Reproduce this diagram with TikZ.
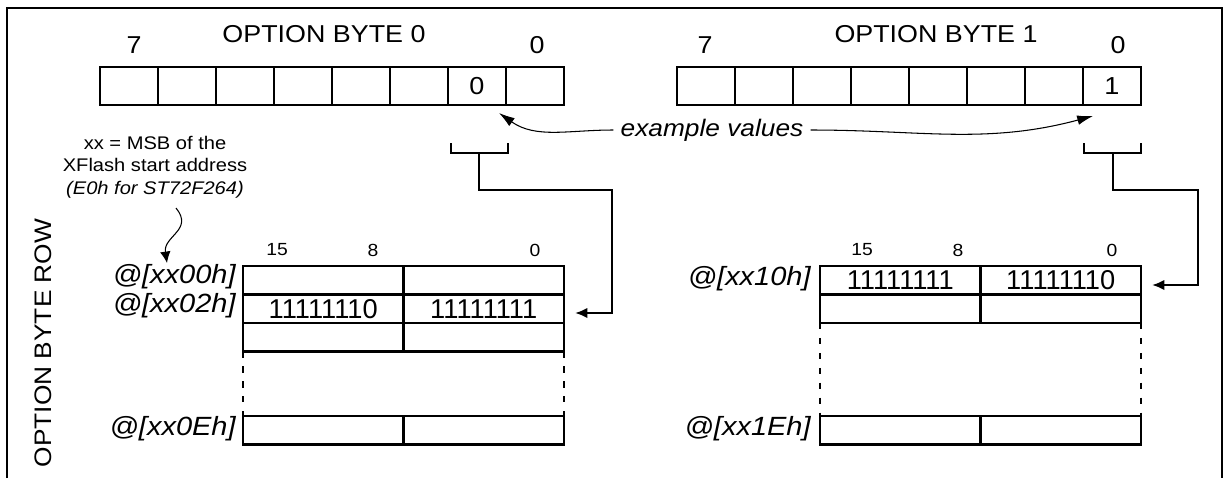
\documentclass[tikz,border=0pt]{standalone}
\usepackage{fontspec}
\setmainfont{Liberation Sans}
\newfontfamily\widesans[FakeStretch=1.1]{Liberation Sans}
\usetikzlibrary{arrows.meta}

\tikzset{
  cell/.style={draw, line width=1.3pt, minimum width=1.16cm, minimum height=0.76cm,
    inner sep=0pt, outer sep=0pt, font=\widesans\fontsize{14}{16}\selectfont},
  half/.style={draw, line width=1.3pt, minimum width=3.21cm, minimum height=0.57cm,
    inner sep=0pt, outer sep=0pt, font=\fontsize{15.5}{17}\selectfont},
  title/.style={font=\widesans\fontsize{13.9}{16}\selectfont, inner sep=0pt},
  bitno/.style={font=\widesans\fontsize{10}{12}\selectfont, inner sep=0pt},
  addr/.style={font=\widesans\itshape\fontsize{15}{17}\selectfont, anchor=east, inner sep=0pt},
  note/.style={font=\widesans\fontsize{10.4}{12.8}\selectfont, align=center, inner sep=0pt},
  wire/.style={line width=1.3pt},
  link/.style={wire, -{Latex[length=7pt,width=6pt]}},
  hint/.style={line width=0.6pt, -{Latex[length=9pt,width=5.5pt]}},
  gap/.style={line width=1.3pt, dash pattern=on 3.5pt off 5pt},
}

\begin{document}
\begin{tikzpicture}[x=0.02cm, y=-0.02cm]
        \useasboundingbox (0,0) rectangle (1229,478);

        % Rahmen, unten offen
        \draw[line width=1.1pt] (7,478) |- (1222,8) -- (1222,478);

        % Option Bytes
        \foreach \i in {0,...,7} {
            \node[cell] (ob0-\i) at (129+58*\i,86) {};
            \node[cell] (ob1-\i) at (706+58*\i,86) {};
        }
        \node[cell, draw=none] (ob0-val) at (ob0-6) {0};
        \node[cell, draw=none] (ob1-val) at (ob1-7) {1};

        \node[title] (ob0-hi) at (134,45.5) {7};
        \node[title] (ob0-name) at (324,34) {OPTION BYTE 0};
        \node[title] (ob0-lo) at (537,45.5) {0};
        \node[title] (ob1-hi) at (705,45.5) {7};
        \node[title] (ob1-name) at (936,34) {OPTION BYTE 1};
        \node[title] (ob1-lo) at (1118,45.5) {0};

        % Beispielwerte
        \node[font=\widesans\itshape\fontsize{13.6}{16}\selectfont, inner sep=4pt] (ex) at (712,130) {example values};
        \coordinate (ex0) at (499,113);
        \coordinate (ex1) at (1093,116);
        \draw[hint] (ex.west) to[out=180,in=-35] (ex0);
        \draw[hint] (ex.east) to[out=0,in=195] (ex1);

        % Klammern unter Bit 1 und Bit 0
        \draw[wire] (451,143) |- (508,153) -- (508,143);
        \draw[wire] (1084,143) |- (1141,153) -- (1141,143);
        \coordinate (k0) at (479,153);
        \coordinate (j0) at (612,190);
        \coordinate (t0) at (575,313);
        \coordinate (k1) at (1113,153);
        \coordinate (j1) at (1198,190);
        \coordinate (t1) at (1152,285);
        \draw[link] (k0) |- (j0) |- (t0);
        \draw[link] (k1) |- (j1) |- (t1);

        % Hinweis zu xx
        \node[note] (msb) at (155,167) {xx = MSB of the\\XFlash start address\\\textit{(E0h for ST72F264)}};
        \coordinate (curl) at (176,208);
        \coordinate (curl-tip) at (167,263);
        \draw[hint, -{Latex[length=6.5pt,width=6pt]}] (curl) .. controls (194,230) and (163,236) .. (curl-tip);

        \node[rotate=90, font=\widesans\fontsize{13.6}{16}\selectfont] (obrow) at (43,343) {OPTION BYTE ROW};

        % Zeilen fuer Option Byte 0
        \node[half] (l1a) at (323.25,280.25) {};
        \node[half] (l1b) at (483.75,280.25) {};
        \node[half] (l2a) at (323.25,308.75) {11111110};
        \node[half] (l2b) at (483.75,308.75) {11111111};
        \node[half] (l3a) at (323.25,337.25) {};
        \node[half] (l3b) at (483.75,337.25) {};
        \node[half] (l4a) at (323.25,430.25) {};
        \node[half] (l4b) at (483.75,430.25) {};
        \draw[gap] (l3a.south west) -- (l4a.north west);
        \draw[gap] (l3b.south east) -- (l4b.north east);

        % Zeilen fuer Option Byte 1
        \node[half] (r1a) at (900.25,280.25) {11111111};
        \node[half] (r1b) at (1060.75,280.25) {11111110};
        \node[half] (r2a) at (900.25,308.75) {};
        \node[half] (r2b) at (1060.75,308.75) {};
        \node[half] (r4a) at (900.25,430.25) {};
        \node[half] (r4b) at (1060.75,430.25) {};
        \draw[gap] (r2a.south west) -- (r4a.north west);
        \draw[gap] (r2b.south east) -- (r4b.north east);

        % Bitnummern
        \node[bitno] (l15) at (277,250) {15};
        \node[bitno] (l8) at (373,250) {8};
        \node[bitno] (l0) at (535,250) {0};
        \node[bitno] (r15) at (862,250) {15};
        \node[bitno] (r8) at (958,250) {8};
        \node[bitno] (r0) at (1112,250) {0};

        % Adressen
        \node[addr] (a00) at (236,277) {@[xx00h]};
        \node[addr] (a02) at (236,306) {@[xx02h]};
        \node[addr] (a0e) at (236,429) {@[xx0Eh]};
        \node[addr] (a10) at (811,279) {@[xx10h]};
        \node[addr] (a1e) at (811,429) {@[xx1Eh]};
\end{tikzpicture}
\end{document}
